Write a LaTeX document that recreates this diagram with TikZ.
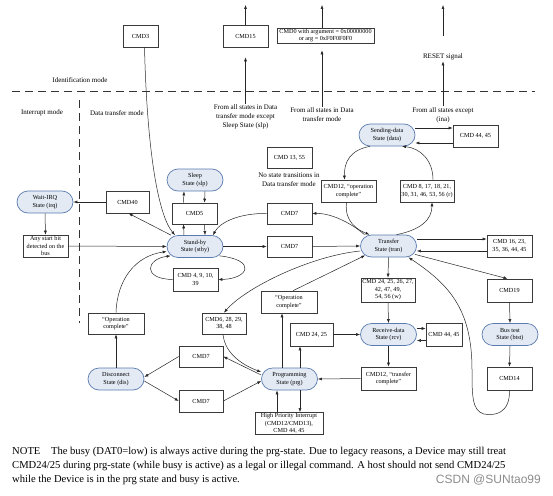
\documentclass[tikz,border=0pt]{standalone}
\usepackage{fontspec}
\setmainfont{Liberation Serif}
\newfontfamily\wmfont{Liberation Sans}
\usetikzlibrary{positioning,arrows.meta}
\definecolor{stateFill}{HTML}{E3EAF4}
\definecolor{stateLine}{HTML}{5A7BB0}
\definecolor{boxLine}{HTML}{3A3A3A}
\newcommand{\boxfont}{\fontsize{6.2}{7.4}\selectfont}
\newcommand{\lblfont}{\fontsize{7}{9}\selectfont}
\newcommand{\notefont}{\fontsize{10.6}{13}\selectfont}

\tikzset {
    state box/.style={
        fill=stateFill,
        draw=stateLine,
        line width=0.7pt,
        rectangle, % pill shaped
        rounded corners=11pt,
        minimum width=56pt,
        minimum height=22pt,
        inner sep=1pt,
        align=center,
        font=\boxfont,
    },
    cmd box/.style={
        fill=white,
        draw=boxLine,
        line width=0.6pt,
        rectangle, % plain command box
        minimum width=45pt,
        minimum height=22pt,
        inner sep=1pt,
        align=center,
        font=\boxfont,
    },
    mode label/.style={
        align=center,
        inner sep=1pt,
        font=\lblfont,
    },
    conn/.style={
        draw=black!85,
        line width=0.5pt,
        -{Latex[length=4pt,width=3pt]},
    },
    mode line/.style={
        draw=black!80,
        line width=0.8pt,
        dash pattern=on 8pt off 5pt,
    },
}

\begin{document}
\begin{tikzpicture}[x=1pt, y=-1pt]
    \useasboundingbox (0,0) rectangle (553,495);

    % identification mode
    \node[cmd box, minimum width=35pt] at (140.5,36) (cmd3) {CMD3};
    \node[cmd box] at (245.5,36) (cmd15) {CMD15};
    \node[cmd box, minimum width=97pt, minimum height=15pt, inner sep=0.5pt] at (325.5,35.5) (cmd0) {CMD0 with argument = 0x00000000\\or arg = 0xF0F0F0F0};
    \node[mode label] at (443,57) (reset) {RESET signal};
    \node[mode label] at (245.5,117) (fromExSlp) {From all states in Data\\transfer mode except\\Sleep State (slp)};
    \node[mode label] at (322,115) (fromData) {From all states in Data\\transfer mode};
    \node[mode label] at (443,115) (fromAll) {From all states except\\(ina)};
    \node[mode label] at (80,80) (idMode) {Identification mode};
    \node[mode label] at (42,113) (intMode) {Interrupt mode};
    \node[mode label] at (117,113) (dtMode) {Data transfer mode};
    \coordinate (top15) at (245.5,5);
    \coordinate (top0) at (322,5);
    \coordinate (topReset) at (443,5);

    \draw[mode line] (12,91) -- (535,91);
    \draw[mode line] (79,100) -- (79,323);

    % states
    \node[state box] at (45,202) (irq) {Wait-IRQ\\State (irq)};
    \node[state box] at (195,180) (slp) {Sleep\\State (slp)};
    \node[state box] at (195,246.5) (stby) {Stand-by\\State (stby)};
    \node[state box] at (387,135) (data) {Sending-data\\State (data)};
    \node[state box] at (388.5,246) (tran) {Transfer\\State (tran)};
    \node[state box] at (510,334.5) (bust) {Bus test\\State (btst)};
    \node[state box] at (388.5,334.5) (rcv) {Receive-data\\State (rcv)};
    \node[state box] at (289.5,379) (prg) {Programming\\State (prg)};
    \node[state box] at (116,379) (dis) {Disconnect\\State (dis)};

    % commands
    \node[cmd box, minimum width=43pt] at (127.5,202) (cmd40) {CMD40};
    \node[cmd box] at (45.5,246) (startBit) {Any start bit\\detected on the\\bus};
    \node[cmd box, minimum height=21pt] at (194.5,213.5) (cmd5) {CMD5};
    \node[cmd box, minimum height=23pt] at (195.5,279.5) (cmdLoop) {CMD 4, 9, 10,\\39};
    \node[cmd box, minimum height=21pt] at (289.5,213.5) (cmd7a) {CMD7};
    \node[cmd box, minimum height=21pt] at (289.5,246.5) (cmd7b) {CMD7};
    \node[cmd box, minimum height=21pt] at (289.5,157.5) (cmd13) {CMD 13, 55};
    \node[mode label] at (289,180) (noTrans) {No state transitions in\\Data transfer mode};
    \node[cmd box] at (475.5,136) (cmd44a) {CMD 44, 45};
    \node[cmd box, minimum width=55pt] at (348.5,191) (cmd12a) {CMD12, ``operation\\complete''};
    \node[cmd box, minimum width=54pt] at (427,191) (cmd8) {CMD 8, 17, 18, 21,\\30, 31, 46, 53, 56 (r)};
    \node[cmd box] at (509.5,246) (cmd16) {CMD 16, 23,\\35, 36, 44, 45};
    \node[cmd box, minimum height=23pt] at (509.5,290.5) (cmd19) {CMD19};
    \node[cmd box, minimum height=23pt] at (509.5,378.5) (cmd14) {CMD14};
    \node[cmd box, minimum width=54pt, minimum height=24pt] at (388,290) (cmd24w) {CMD 24, 25, 26, 27,\\42, 47, 49,\\54, 56 (w)};
    \node[cmd box, minimum width=36pt, minimum height=23pt] at (444,334.5) (cmd44b) {CMD 44, 45};
    \node[cmd box, minimum width=55pt, minimum height=23pt] at (388.5,378.5) (cmd12b) {CMD12, ``transfer\\complete''};
    \node[cmd box, minimum width=43pt, minimum height=23pt] at (311.5,334.5) (cmd24) {CMD 24, 25};
    \node[cmd box, minimum width=56pt] at (289,302) (opDoneB) {``Operation\\complete''};
    \node[cmd box, minimum width=44pt, minimum height=21pt] at (224,323.5) (cmd6) {CMD6, 28, 29,\\38, 48};
    \node[cmd box, minimum width=44pt, minimum height=21pt] at (201,356.5) (cmd7c) {CMD7};
    \node[cmd box, minimum width=44pt] at (201,401) (cmd7d) {CMD7};
    \node[cmd box, minimum width=56pt, minimum height=21pt] at (116,323.5) (opDoneA) {``Operation\\complete''};
    \node[cmd box, minimum width=68pt, minimum height=21pt] at (289,423.5) (hpi) {High Priority Interrupt\\(CMD12/CMD13),\\CMD 44, 45};

    % top arrows
    \draw[conn] (cmd15.north) -- (top15);
    \draw[conn, shorten >=10pt] (fromExSlp.north) -- (cmd15.south);
    \draw[conn] ([xshift=-3.5pt]cmd0.north) -- (top0);
    \draw[conn, shorten >=7pt] (fromData.north) -- ([xshift=-3.5pt]cmd0.south);
    \draw[conn] ([yshift=17pt]reset.north) -- (topReset);
    \draw[conn] (fromAll.north) -- (reset.south);

    % around stand-by
    \draw[conn] ([xshift=4pt]cmd3.south) .. controls (147,150) and (158,215) .. ([xshift=-20pt]stby.north);
    \draw[conn] (cmd40.west) -- (irq.east);
    \draw[conn] ([xshift=-24pt]stby.north) -- ([xshift=1pt]cmd40.south);
    \draw[conn] (irq.south) -- (startBit.north);
    \draw[conn] (startBit.east) -- (stby.west);
    \draw[conn] ([xshift=-11pt]cmd5.north) -- ([xshift=-11pt]slp.south);
    \draw[conn] ([xshift=10pt]slp.south) -- ([xshift=10pt]cmd5.north);
    \draw[conn] ([xshift=-11pt]stby.north) -- ([xshift=-11pt]cmd5.south);
    \draw[conn] ([xshift=10pt]cmd5.south) -- ([xshift=10pt]stby.north);
    \draw[conn] ([xshift=-4pt,yshift=2pt]stby.south east) .. controls (258,260) and (248,279) .. (cmdLoop.east);
    \draw[conn] (cmdLoop.west) .. controls (142,279) and (146,259) .. ([xshift=4pt,yshift=2pt]stby.south west);
    \draw[conn] (stby.east) -- (cmd7b.west);
    \draw[conn] (cmd7b.east) -- (tran.west);
    \draw[conn] ([xshift=-24pt]tran.north) .. controls (350,222) and (330,213) .. (cmd7a.east);
    \draw[conn] (cmd7a.west) .. controls (240,213) and (220,222) .. ([xshift=18pt]stby.north);
    \draw[conn] (opDoneA.north) .. controls (117,280) and (135,256) .. ([yshift=-5pt]stby.west);

    % around transfer
    \draw[conn] ([yshift=7pt]data.east) -- ([yshift=8pt]cmd44a.west);
    \draw[conn] ([yshift=-7pt]cmd44a.west) -- ([yshift=-8pt]data.east);
    \draw[conn] ([xshift=-17pt]data.south) .. controls (350,150) and (344,162) .. ([xshift=-4pt]cmd12a.north);
    \draw[conn] ([xshift=-2pt]cmd12a.south) .. controls (344,222) and (358,230) .. ([xshift=-19pt]tran.north);
    \draw[conn] ([xshift=8pt]tran.north) .. controls (420,230) and (432,220) .. ([xshift=5pt]cmd8.south);
    \draw[conn] ([xshift=6pt]cmd8.north) .. controls (433,160) and (420,148) .. ([xshift=15pt]data.south);
    \draw[conn] ([yshift=7pt]tran.east) -- ([yshift=7pt]cmd16.west);
    \draw[conn] ([yshift=-5pt]cmd16.west) -- ([yshift=-5pt]tran.east);
    \draw[conn] ([xshift=-2pt,yshift=3pt]tran.south east) -- ([xshift=-2pt]cmd19.north);
    \draw[conn] (cmd19.south) -- (bust.north);
    \draw[conn] (bust.south) -- (cmd14.north);
    \draw[conn] (cmd14.south) .. controls (510,414) and (494,416) .. (484,414) .. controls (472,411) and (472,395) .. (472,370) .. controls (472,310) and (450,285) .. ([xshift=20pt]tran.south);
    \draw[conn] (tran.south) -- (cmd24w.north);
    \draw[conn] (cmd24w.south) -- (rcv.north);
    \draw[conn] ([yshift=6pt]rcv.east) -- ([yshift=6pt]cmd44b.west);
    \draw[conn] ([yshift=-6pt]cmd44b.west) -- ([yshift=-6pt]rcv.east);
    \draw[conn] (rcv.south) -- (cmd12b.north);
    \draw[conn] (cmd12b.west) -- (prg.east);
    \draw[conn] (cmd24.east) -- (rcv.west);
    \draw[conn] ([yshift=-5pt]tran.west) .. controls (310,256) and (245,288) .. (cmd6.north);

    % around programming
    \draw[conn] ([xshift=10.5pt]prg.north) -- ([xshift=-11.5pt]cmd24.south);
    \draw[conn] ([xshift=-7.5pt]prg.north) -- ([xshift=-7pt]opDoneB.south);
    \draw[conn] ([xshift=4pt]opDoneB.north) -- ([xshift=5pt,yshift=2pt]tran.south west);
    \draw[conn] ([xshift=-1pt]cmd6.south) .. controls (225,355) and (245,366) .. ([yshift=7pt]prg.west);
    \draw[conn] ([yshift=4pt]prg.west) -- (cmd7c.east);
    \draw[conn] (cmd7c.west) -- ([yshift=2pt]dis.east);
    \draw[conn] ([yshift=-2pt]dis.east) -- (cmd7d.west);
    \draw[conn] (cmd7d.east) -- ([yshift=-2pt]prg.west);
    \draw[conn] (dis.north) -- (opDoneA.south);
    \draw[conn] ([xshift=-12pt]hpi.north) -- ([xshift=-12.5pt]prg.south);
    \draw[conn] ([xshift=10.5pt]prg.south) -- ([xshift=11pt]hpi.north);

    % note
    \node[anchor=west, inner sep=0pt, font=\notefont] at (12,451.5) (note1) {NOTE\hspace{1em}The busy (DAT0=low) is always active during the prg-state. Due to legacy reasons, a Device may still treat};
    \node[anchor=west, inner sep=0pt, font=\notefont] at (12,466) (note2) {CMD24/25 during prg-state (while busy is active) as a legal or illegal command. A host should not send CMD24/25};
    \node[anchor=west, inner sep=0pt, font=\notefont] at (12,480) (note3) {while the Device is in the prg state and busy is active.};
    \node[anchor=east, inner sep=0pt, font=\wmfont\fontsize{12}{14}\selectfont, text=black!45] at (541,480) (wMark) {CSDN @SUNtao99};
\end{tikzpicture}
\end{document}
